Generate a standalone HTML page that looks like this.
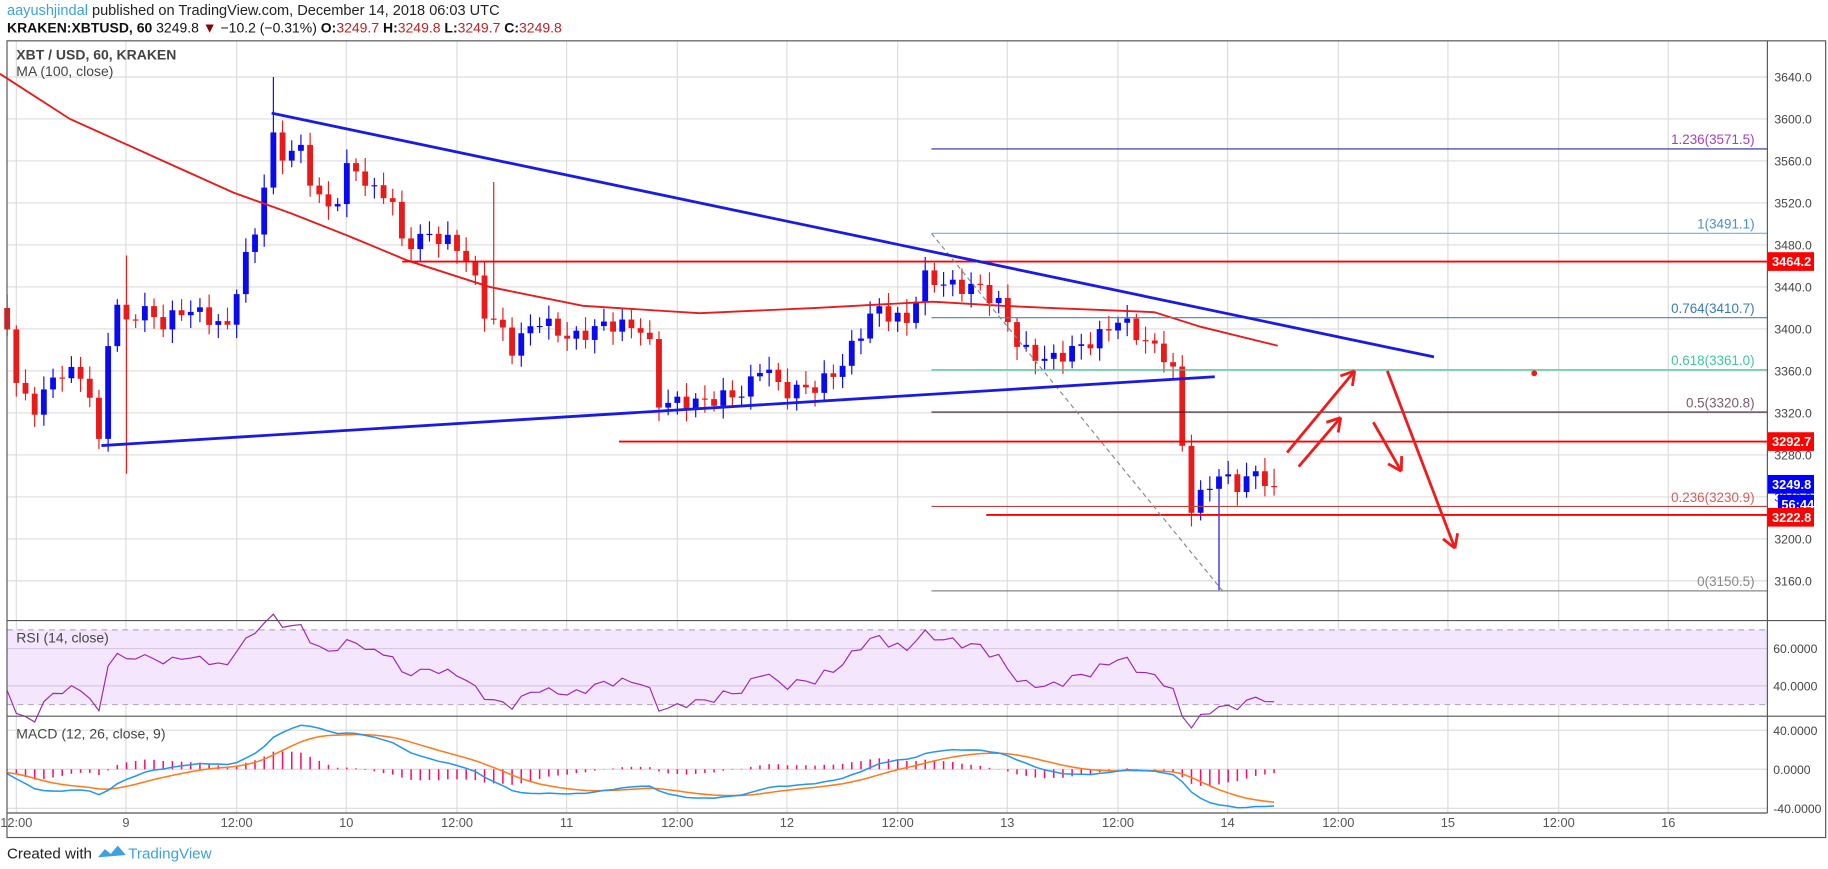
<!DOCTYPE html>
<html><head><meta charset="utf-8"><style>
html,body{margin:0;padding:0;background:#fff;}
svg{display:block;font-family:"Liberation Sans",sans-serif;}
</style></head><body>
<svg id="s" width="1828" height="869" viewBox="0 0 1568 745" preserveAspectRatio="none" xmlns="http://www.w3.org/2000/svg">
<rect width="1568" height="745" fill="#fff"/>
<text x="6" y="13" font-size="12.5" fill="#222"><tspan fill="#3da0e0">aayushjindal</tspan> published on TradingView.com, December 14, 2018 06:03 UTC</text>
<text x="6" y="28" font-size="12" fill="#111"><tspan font-weight="bold">KRAKEN:XBTUSD, 60</tspan> 3249.8 <tspan fill="#8b0000">▼</tspan> −10.2 (−0.31%) <tspan font-weight="bold">O:</tspan><tspan fill="#b22">3249.7</tspan> <tspan font-weight="bold">H:</tspan><tspan fill="#b22">3249.8</tspan> <tspan font-weight="bold">L:</tspan><tspan fill="#b22">3249.7</tspan> <tspan font-weight="bold">C:</tspan><tspan fill="#b22">3249.8</tspan></text>
<g id="grid"></g>
<g id="main"></g>
<rect x="6" y="35" width="1560" height="683" fill="none" stroke="#555" stroke-width="1"/>
<line x1="1516" y1="35" x2="1516" y2="697" stroke="#555"/>
<line x1="6" y1="532" x2="1566" y2="532" stroke="#555"/>
<line x1="6" y1="614" x2="1566" y2="614" stroke="#555"/>
<line x1="6" y1="697" x2="1516" y2="697" stroke="#555"/>
<text x="14" y="51" font-size="12" font-weight="bold" fill="#444">XBT / USD, 60, KRAKEN</text>
<text x="14" y="65" font-size="12" fill="#444">MA (100, close)</text>
<text x="14" y="551" font-size="12" fill="#444">RSI (14, close)</text>
<text x="14" y="633" font-size="12" fill="#444">MACD (12, 26, close, 9)</text>
<text x="6" y="736" font-size="13" fill="#222">Created with</text>
<path d="M84 735 l6 -7 l5 4 l6 -7 l7 8 z" fill="#3da0e0"/>
<text x="110" y="736" font-size="13" fill="#3da0e0">TradingView</text>
</svg>
<script>
(function(){
var NS="http://www.w3.org/2000/svg";
var G=document.getElementById('grid'),M=document.getElementById('main');
function el(p,tag,a,txt){var e=document.createElementNS(NS,tag);for(var k in a)e.setAttribute(k,a[k]);if(txt!=null)e.textContent=txt;p.appendChild(e);return e;}
function py(p){return 318+(3360-p)*0.9;}
var tl=[[14,"12:00"],[108,"9"],[203,"12:00"],[297,"10"],[392,"12:00"],[486,"11"],[581,"12:00"],[675,"12"],[770,"12:00"],[864,"13"],[959,"12:00"],[1053,"14"],[1148,"12:00"],[1242,"15"],[1337,"12:00"],[1431,"16"]];
tl.forEach(function(t){el(G,'line',{x1:t[0],y1:35,x2:t[0],y2:697,stroke:'#dcdcdc'});el(G,'text',{x:t[0],y:709,'font-size':11,fill:'#555','text-anchor':'middle'},t[1]);});
el(G,'rect',{x:6,y:540,width:1510,height:64,fill:'#f3e6fd'});
el(G,'line',{x1:6,y1:540,x2:1516,y2:540,stroke:'#b9a9c4','stroke-dasharray':'5,4'});
el(G,'line',{x1:6,y1:604,x2:1516,y2:604,stroke:'#b9a9c4','stroke-dasharray':'5,4'});
[[556,"60.0000"],[588,"40.0000"]].forEach(function(r){el(G,'line',{x1:6,y1:r[0],x2:1516,y2:r[0],stroke:'#d8c8e6'});el(G,'text',{x:1521,y:r[0]+4,'font-size':10.5,fill:'#444'},r[1]);});
[[626,"40.0000"],[659.5,"0.0000"],[693,"-40.0000"]].forEach(function(r){el(G,'line',{x1:6,y1:r[0],x2:1516,y2:r[0],stroke:'#dcdcdc'});el(G,'text',{x:1521,y:r[0]+4,'font-size':10.5,fill:'#444'},r[1]);});
for(var p=3160;p<=3640;p+=40){var y=py(p);el(G,'line',{x1:6,y1:y,x2:1516,y2:y,stroke:'#dcdcdc'});el(G,'text',{x:1522,y:y+4,'font-size':10.5,fill:'#444'},p.toFixed(1));}
var wp=[[0,3420],[8,3400],[15,3340],[30,3325],[50,3360],[70,3355],[80,3330],[88,3262],[95,3450],[105,3400],[120,3420],[140,3405],[160,3420],[180,3410],[195,3400],[205,3450],[215,3480],[222,3500],[232,3585],[245,3560],[255,3580],[270,3530],[285,3510],[300,3560],[320,3530],[335,3530],[345,3480],[370,3490],[390,3480],[405,3460],[412,3420],[430,3400],[440,3380],[460,3410],[490,3390],[520,3405],[555,3400],[565,3330],[600,3330],[640,3340],[655,3370],[670,3340],[700,3345],[720,3362],[740,3400],[750,3420],[780,3405],[790,3450],[820,3440],[840,3440],[860,3420],[875,3380],[900,3370],[940,3390],[960,3410],[980,3390],[1005,3370],[1012,3310],[1020,3228],[1030,3240],[1045,3262],[1060,3250],[1075,3262],[1100,3250]];
function ip(x){for(var i=1;i<wp.length;i++){if(x<=wp[i][0]){var a=wp[i-1],b=wp[i];return a[1]+(b[1]-a[1])*(x-a[0])/(b[0]-a[0]);}}return wp[wp.length-1][1];}
var cs=[],st=7.875,prev=3420;
for(var i=-1;i<=137;i++){var x=14+i*st;var c=ip(x)+Math.sin(i*2.3)*7;var o=prev;
var h=Math.max(o,c)+4+Math.abs(Math.sin(i*1.7))*9,l=Math.min(o,c)-4-Math.abs(Math.cos(i*1.3))*9;
if(i==28){h=3640;} if(i==131){l=3150;} if(i==12){h=3470;l=3262;} if(i==52){h=3540;}
cs.push({x:x,o:o,c:c,h:h,l:l});prev=c;}
cs[cs.length-1].c=3249.8;
cs.forEach(function(k){var up=k.c>=k.o,col=up?'#0a0aef':'#e81a1a';
el(M,'line',{x1:k.x,y1:py(k.h),x2:k.x,y2:py(k.l),stroke:col,'stroke-width':1});
var y1=py(Math.max(k.o,k.c)),y2=py(Math.min(k.o,k.c));el(M,'rect',{x:k.x-2.5,y:y1,width:5,height:Math.max(1,y2-y1),fill:col});});
var ma=[[0,3643],[60,3600],[150,3555],[200,3530],[250,3510],[300,3488],[350,3465],[420,3440],[500,3422],[600,3415],[700,3420],[800,3426],[860,3422],[900,3420],[990,3416],[1030,3402],[1096,3384]];
el(M,'polyline',{points:ma.map(function(a){return a[0]+','+py(a[1]);}).join(' '),fill:'none',stroke:'#e81a1a','stroke-width':1.6});
[[3464.2,345],[3292.7,531],[3222.8,846]].forEach(function(h){var y=py(h[0]);el(M,'line',{x1:h[1],y1:y,x2:1516,y2:y,stroke:'#ff0000','stroke-width':1.6});});
var fib=[[1.236,"3571.5",'#2a2aa0','#a040c0'],[1,"3491.1",'#6fb0e0','#4a8fd0'],[0.764,"3410.7",'#4a80c0','#3a7ab8'],[0.618,"3361.0",'#3cc89a','#3cc89a'],[0.5,"3320.8",'#3a1a2a','#7a5a6a'],[0.236,"3230.9",'#c04040','#d06060'],[0,"3150.5",'#888','#888']];
fib.forEach(function(f){var y=py(parseFloat(f[1]));el(M,'line',{x1:799,y1:y,x2:1516,y2:y,stroke:f[2],'stroke-width':1});el(M,'text',{x:1505,y:y-4,'font-size':11.5,fill:f[3],'text-anchor':'end'},f[0]+"("+f[1]+")");});
el(M,'line',{x1:799,y1:py(3491),x2:1049,y2:py(3150),stroke:'#888','stroke-dasharray':'4,3'});
el(M,'line',{x1:233,y1:97,x2:1230,y2:306,stroke:'#1a1ae6','stroke-width':2.4});
el(M,'line',{x1:87,y1:382,x2:1042,y2:323,stroke:'#1a1ae6','stroke-width':2.4});
function arr(x1,y1,x2,y2){el(M,'line',{x1:x1,y1:y1,x2:x2,y2:y2,stroke:'#ee1c1c','stroke-width':2.4});var a=Math.atan2(y2-y1,x2-x1);[a+2.6,a-2.6].forEach(function(b){el(M,'line',{x1:x2,y1:y2,x2:x2+13*Math.cos(b),y2:y2+13*Math.sin(b),stroke:'#ee1c1c','stroke-width':2.4});});}
arr(1104,388,1162,318);arr(1114,400,1150,358);arr(1178,362,1202,404);arr(1190,318,1248,470);
el(M,'circle',{cx:1316,cy:320,r:2.5,fill:'#ee1c1c'});
function tag(y,t,col){el(M,'rect',{x:1516,y:y-8,width:40,height:16,fill:col});el(M,'text',{x:1520,y:y+4,'font-size':11,fill:'#fff','font-weight':'bold'},t);}
tag(py(3464.2),"3464.2",'#ff0000');tag(py(3292.7),"3292.7",'#ff0000');tag(py(3249.8)-2,"3249.8",'#0000ff');
el(M,'rect',{x:1525,y:py(3249.8)+7,width:31,height:16,fill:'#0000ff'});el(M,'text',{x:1528,y:py(3249.8)+19,'font-size':11,fill:'#fff','font-weight':'bold'},"56:44");
tag(py(3222.8)+2,"3222.8",'#ff0000');
var closes=[];for(var j=0;j<40;j++)closes.push(3440+Math.sin(j)*10-(j*0.5));
cs.forEach(function(k){closes.push(k.c);});
var ag=0,al=0,rsi=[];
for(var j=1;j<closes.length;j++){var d=closes[j]-closes[j-1];var g=d>0?d:0,ls=d<0?-d:0;if(j<=14){ag+=g/14;al+=ls/14;}else{ag=(ag*13+g)/14;al=(al*13+ls)/14;}rsi.push(al==0?100:100-100/(1+ag/al));}
var e12=closes[0],e26=closes[0],sig=0,mac=[];
closes.forEach(function(c,j){e12+= (c-e12)*2/13;e26+=(c-e26)*2/27;var m=e12-e26;sig+=(m-sig)*0.2;mac.push([m,sig]);});
var off=40,rp=[],mp=[],sp=[];
cs.forEach(function(k,j){var r=rsi[off+j-1];rp.push(k.x+','+(652-1.6*r));var m=mac[off+j];var my=659.5-0.83*m[0],sy=659.5-0.83*m[1];mp.push(k.x+','+my);sp.push(k.x+','+sy);
var hv=(m[0]-m[1])*0.83*1.0;el(M,'line',{x1:k.x,y1:659.5,x2:k.x,y2:659.5-hv,stroke:'#ff0a6c','stroke-width':1.3});});
el(M,'polyline',{points:rp.join(' '),fill:'none',stroke:'#9c27b0','stroke-width':1});
el(M,'polyline',{points:sp.join(' '),fill:'none',stroke:'#ff7a1a','stroke-width':1.3});
el(M,'polyline',{points:mp.join(' '),fill:'none',stroke:'#2196f3','stroke-width':1.3});
})();
</script>
</body></html>
